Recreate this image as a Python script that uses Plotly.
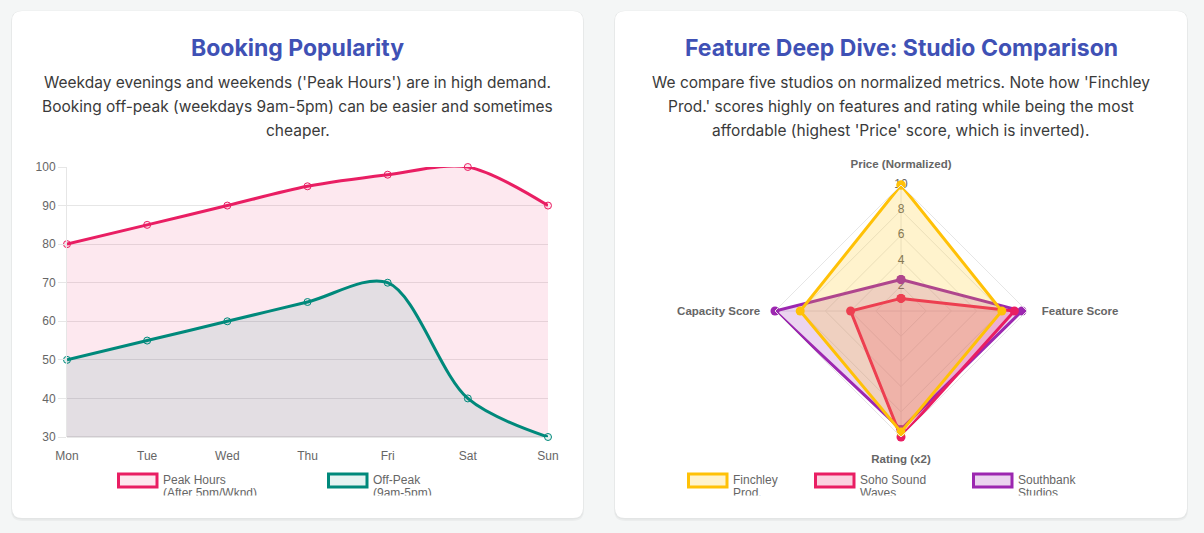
import plotly.graph_objects as go

W, H = 1204, 533

# ---------------- data ----------------
days = ["Mon", "Tue", "Wed", "Thu", "Fri", "Sat", "Sun"]
peak_hours = [80, 85, 90, 95, 98, 100, 90]
off_peak = [50, 55, 60, 65, 70, 40, 30]
line_names = ["Peak Hours", "Off-Peak"]
line_legend_sub = ["(After 5pm/Wknd)", "(9am-5pm)"]

radar_axes = ["Price (Normalized)", "Feature Score", "Rating (x2)", "Capacity Score"]
studios = ["Finchley Prod.", "Soho Sound Waves", "Southbank Studios"]
studio_legend_l1 = ["Finchley", "Soho Sound", "Southbank"]
studio_legend_l2 = ["Prod.", "Waves", "Studios"]
finchley = [10, 8, 9.6, 8]
soho = [1, 9, 10, 4]
southbank = [2.5, 9.6, 9.4, 10]
radial_ticks = [2, 4, 6, 8, 10]

# ---------------- helpers ----------------
def px(x):
    return x / W

def py(y):
    return 1 - y / H

def rounded_rect(x0, y0, x1, y1, r):
    X0, X1 = px(x0), px(x1)
    Y0, Y1 = py(y0), py(y1)
    rx, ry = r / W, r / H
    return (f"M {X0+rx},{Y0} L {X1-rx},{Y0} Q {X1},{Y0} {X1},{Y0-ry} "
            f"L {X1},{Y1+ry} Q {X1},{Y1} {X1-rx},{Y1} L {X0+rx},{Y1} "
            f"Q {X0},{Y1} {X0},{Y1+ry} L {X0},{Y0-ry} Q {X0},{Y0} {X0+rx},{Y0} Z")

CHART_FONT = "Liberation Sans, Arial, sans-serif"
TEXT_FONT = "Inter, Noto Sans, sans-serif"
GRID = "#e6e6e6"
TICK = "#666666"

fig = go.Figure()

# ---------------- left: line chart ----------------
pink = "#e91e63"
teal = "#00897b"
fig.add_trace(go.Scatter(
    x=days, y=peak_hours, name=line_names[0], mode="lines+markers",
    line=dict(color=pink, width=3, shape="spline", smoothing=0.9),
    marker=dict(size=7, color="rgba(233,30,99,0.1)", line=dict(color=pink, width=1)),
    fill="tozeroy", fillcolor="rgba(233,30,99,0.1)", showlegend=False, cliponaxis=False,
    xaxis="x", yaxis="y"))
fig.add_trace(go.Scatter(
    x=days, y=off_peak, name=line_names[1], mode="lines+markers",
    line=dict(color=teal, width=3, shape="spline", smoothing=0.9),
    marker=dict(size=7, color="rgba(0,137,123,0.1)", line=dict(color=teal, width=1)),
    fill="tozeroy", fillcolor="rgba(0,137,123,0.1)", showlegend=False, cliponaxis=False,
    xaxis="x", yaxis="y"))

# ---------------- right: radar ----------------
radar_sets = [
    (studios[2], southbank, "#9c27b0", "rgba(156,39,176,0.2)"),
    (studios[1], soho, "#e91e63", "rgba(233,30,99,0.2)"),
    (studios[0], finchley, "#ffc107", "rgba(255,193,7,0.2)"),
]
# radial tick labels (under the data, like the scale)
fig.add_trace(go.Scatterpolar(
    r=radial_ticks, theta=[radar_axes[0]] * len(radial_ticks),
    text=[str(t) for t in radial_ticks], mode="text",
    textfont=dict(family=CHART_FONT, size=12, color=TICK),
    showlegend=False, hoverinfo="skip", subplot="polar"))
for name, vals, col, fillc in radar_sets:
    fig.add_trace(go.Scatterpolar(
        r=vals + [vals[0]], theta=radar_axes + [radar_axes[0]], name=name,
        mode="lines+markers", fill="toself", fillcolor=fillc,
        line=dict(color=col, width=3), marker=dict(size=9, color=col),
        showlegend=False, subplot="polar"))

# ---------------- custom legends (chart.js style) ----------------
leg_box_top, leg_box_bot = 474, 487
line1_y, line2_y = 480.5, 494
legend_items = [
    (117, line_names[0], line_legend_sub[0], pink, "rgba(233,30,99,0.1)"),
    (327, line_names[1], line_legend_sub[1], teal, "rgba(0,137,123,0.1)"),
    (687, studio_legend_l1[0], studio_legend_l2[0], "#ffc107", "rgba(255,193,7,0.2)"),
    (814, studio_legend_l1[1], studio_legend_l2[1], "#e91e63", "rgba(233,30,99,0.2)"),
    (972, studio_legend_l1[2], studio_legend_l2[2], "#9c27b0", "rgba(156,39,176,0.2)"),
]
lx, ly, lt = [], [], []
for x0, t1, t2, col, fc in legend_items:
    lx += [x0 + 46, x0 + 46]
    ly += [line1_y, line2_y]
    lt += [t1, t2]
fig.add_trace(go.Scatter(
    x=lx, y=ly, text=lt, mode="text", textposition="middle right",
    textfont=dict(family=CHART_FONT, size=12, color=TICK),
    cliponaxis=True, showlegend=False, hoverinfo="skip",
    xaxis="x3", yaxis="y3"))

shapes = []
# card shadows + cards
for (x0, x1) in [(12, 583), (615, 1187)]:
    shapes.append(dict(type="path", xref="paper", yref="paper",
                       path=rounded_rect(x0 - 1, 11, x1 + 1, 521, 11),
                       fillcolor="rgba(0,0,0,0.035)", line=dict(width=0), layer="below"))
    shapes.append(dict(type="path", xref="paper", yref="paper",
                       path=rounded_rect(x0 - 0.5, 10.5, x1 + 0.5, 519.5, 10.5),
                       fillcolor="rgba(0,0,0,0.03)", line=dict(width=0), layer="below"))
    shapes.append(dict(type="path", xref="paper", yref="paper",
                       path=rounded_rect(x0, 11, x1, 518, 10),
                       fillcolor="#ffffff", line=dict(width=0), layer="below"))
for x0, t1, t2, col, fc in legend_items:
    shapes.append(dict(type="rect", xref="paper", yref="paper",
                       x0=px(x0 + 1.5), x1=px(x0 + 40), y0=py(leg_box_bot), y1=py(leg_box_top),
                       fillcolor=fc, line=dict(color=col, width=3)))

# ---------------- titles / subtitles ----------------
annotations = []
TITLE_COLOR = "#3f51b5"
SUB_COLOR = "#3a3a3a"
cards = [
    (297.5, "Booking Popularity",
     ["Weekday evenings and weekends ('Peak Hours') are in high demand.",
      "Booking off-peak (weekdays 9am-5pm) can be easier and sometimes",
      "cheaper."]),
    (901, "Feature Deep Dive: Studio Comparison",
     ["We compare five studios on normalized metrics. Note how 'Finchley",
      "Prod.' scores highly on features and rating while being the most",
      "affordable (highest 'Price' score, which is inverted)."]),
]
for cx, title, lines in cards:
    annotations.append(dict(x=px(cx), y=py(48), xref="paper", yref="paper",
                            text=title, showarrow=False, xanchor="center", yanchor="middle",
                            font=dict(family=TEXT_FONT, size=23, color=TITLE_COLOR, weight=700)))
    for i, ln in enumerate(lines):
        annotations.append(dict(x=px(cx), y=py(83 + 23.5 * i), xref="paper", yref="paper",
                                text=ln, showarrow=False, xanchor="center", yanchor="middle",
                                font=dict(family=TEXT_FONT, size=15.5, color=SUB_COLOR)))

# ---------------- layout ----------------
cx, cy, R = 901, 311, 126
fig.update_layout(
    width=W, height=H, margin=dict(l=0, r=0, t=0, b=0, pad=0, autoexpand=False),
    paper_bgcolor="#f4f6f6", plot_bgcolor="rgba(0,0,0,0)",
    showlegend=False, shapes=shapes, annotations=annotations,
    xaxis=dict(domain=[px(67), px(548)], range=[0, 6], type="category", automargin=False,
               showgrid=False, zeroline=False, showline=False,
               ticks="outside", ticklen=8, tickcolor="rgba(0,0,0,0)",
               tickfont=dict(family=CHART_FONT, size=12, color=TICK), anchor="y"),
    yaxis=dict(domain=[py(437), py(167)], range=[30, 100], dtick=10, automargin=False,
               showgrid=True, gridcolor=GRID, gridwidth=1, zeroline=False,
               showline=True, linecolor=GRID, ticks="outside", ticklen=8, tickcolor=GRID,
               tickfont=dict(family=CHART_FONT, size=12, color=TICK), anchor="x"),
    xaxis3=dict(domain=[0, 1], range=[0, W], visible=False, fixedrange=True,
                automargin=False, anchor="y3"),
    yaxis3=dict(domain=[py(495.5), py(468)], range=[495.5, 468], visible=False,
                fixedrange=True, automargin=False, anchor="x3"),
    polar=dict(
        domain=dict(x=[px(cx - R), px(cx + R)], y=[py(cy + R), py(cy - R)]),
        bgcolor="rgba(0,0,0,0)", gridshape="linear",
        radialaxis=dict(range=[0, 10], dtick=2, showticklabels=False, ticks="",
                        showline=False, gridcolor=GRID, gridwidth=1, angle=90),
        angularaxis=dict(rotation=90, direction="clockwise", gridcolor=GRID,
                         showline=True, linecolor=GRID, ticks="outside", ticklen=12,
                         tickcolor="rgba(0,0,0,0)",
                         tickfont=dict(family=CHART_FONT, size=11.5, color=TICK, weight=700)),
    ),
)
# bottom axis border line at y=30
fig.add_shape(type="line", xref="paper", yref="paper", x0=px(67), x1=px(548),
              y0=py(437), y1=py(437), line=dict(color="#cfcfcf", width=1), layer="below")

fig.write_html("out.html")
